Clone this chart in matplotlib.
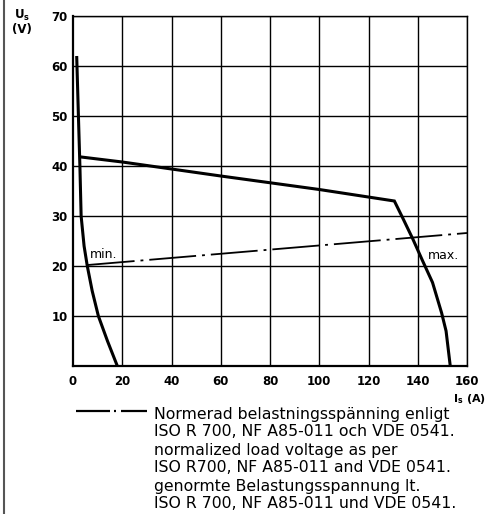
import matplotlib
matplotlib.use("Agg")
import matplotlib.pyplot as plt
from matplotlib.lines import Line2D

# Data
min_I = [1.5, 2.2, 2.8, 3.3, 4.5, 5.8, 7.8, 10.3, 14.0, 18.0]
min_U = [62, 50, 40, 30, 24, 20, 15, 10, 5, 0]
max_I = [3.3, 20, 60, 100, 130.5, 134, 138, 142, 146, 149.7, 151.5, 153.2]
max_U = [41.8, 40.8, 38.0, 35.3, 33.0, 29.5, 25.4, 21.0, 16.7, 10.6, 7.0, 0]
norm_I = [6.0, 160]
norm_U = [20.2, 26.6]
x_ticks = [0, 20, 40, 60, 80, 100, 120, 140, 160]
y_ticks = [10, 20, 30, 40, 50, 60, 70]
legend_lines = ["Normerad belastningsspänning enligt",
                "ISO R 700, NF A85-011 och VDE 0541.",
                "normalized load voltage as per",
                "ISO R700, NF A85-011 and VDE 0541.",
                "genormte Belastungsspannung lt.",
                "ISO R 700, NF A85-011 und VDE 0541."]

W, H = 494, 514
fig = plt.figure(figsize=(W / 100, H / 100), dpi=100)
ax = fig.add_axes([73 / W, 1 - 366 / H, (467 - 73) / W, (366 - 16) / H])
ax.set_xlim(0, 160)
ax.set_ylim(0, 70)

for x in x_ticks[1:]:
    ax.axvline(x, color="black", lw=1.0, zorder=1)
for y in y_ticks:
    ax.axhline(y, color="black", lw=1.0, zorder=1)

for s in ["top", "right"]:
    ax.spines[s].set_linewidth(1.0)
for s in ["left", "bottom"]:
    ax.spines[s].set_linewidth(1.6)

ax.plot(min_I, min_U, color="black", lw=2.2, solid_capstyle="butt", zorder=3)
ax.plot(max_I, max_U, color="black", lw=2.2, solid_joinstyle="miter", zorder=3)
ax.plot(norm_I, norm_U, color="black", lw=1.3, linestyle=(0, (26, 3.3, 1.6, 3.3)), zorder=3)

ax.text(7, 20.9, "min.", fontsize=9, family="DejaVu Sans", va="bottom", ha="left")
ax.text(144, 20.8, "max.", fontsize=9, family="DejaVu Sans", va="bottom", ha="left")

tick_font = dict(family="DejaVu Sans", weight="bold", size=8.5)
ax.set_xticks(x_ticks)
ax.set_xticklabels([str(v) for v in x_ticks], **tick_font)
ax.set_yticks(y_ticks)
ax.set_yticklabels([str(v) for v in y_ticks], **tick_font)
ax.tick_params(axis="both", length=0)
ax.tick_params(axis="x", pad=6.5)
ax.tick_params(axis="y", pad=4)

fig.text(22 / W, 1 - 15 / H, r"U$_\mathregular{s}$", ha="center", va="center", **tick_font)
fig.text(22 / W, 1 - 30 / H, "(V)", ha="center", va="center", **tick_font)
fig.text(469 / W, 1 - 399 / H, r"I$_\mathregular{s}$ (A)", ha="center", va="center",
         family="DejaVu Sans", weight="bold", size=8)

# left page frame line
fig.add_artist(Line2D([3.5 / W, 3.5 / W], [0, 1], color="#555555", lw=1.5, transform=fig.transFigure))

# legend sample: dash - dot - dash
ly = 1 - 411 / H
for xa, xb in [(76, 110), (114, 116), (121, 147)]:
    fig.add_artist(Line2D([xa / W, xb / W], [ly, ly], color="black", lw=1.6,
                          solid_capstyle="butt", transform=fig.transFigure))
ys = [414, 432, 450, 468, 486, 504]
for t, y in zip(legend_lines, ys):
    fig.text(154 / W, 1 - y / H, t, ha="left", va="center", family="DejaVu Sans", size=11.3)

fig.savefig("out.png", dpi=100)
